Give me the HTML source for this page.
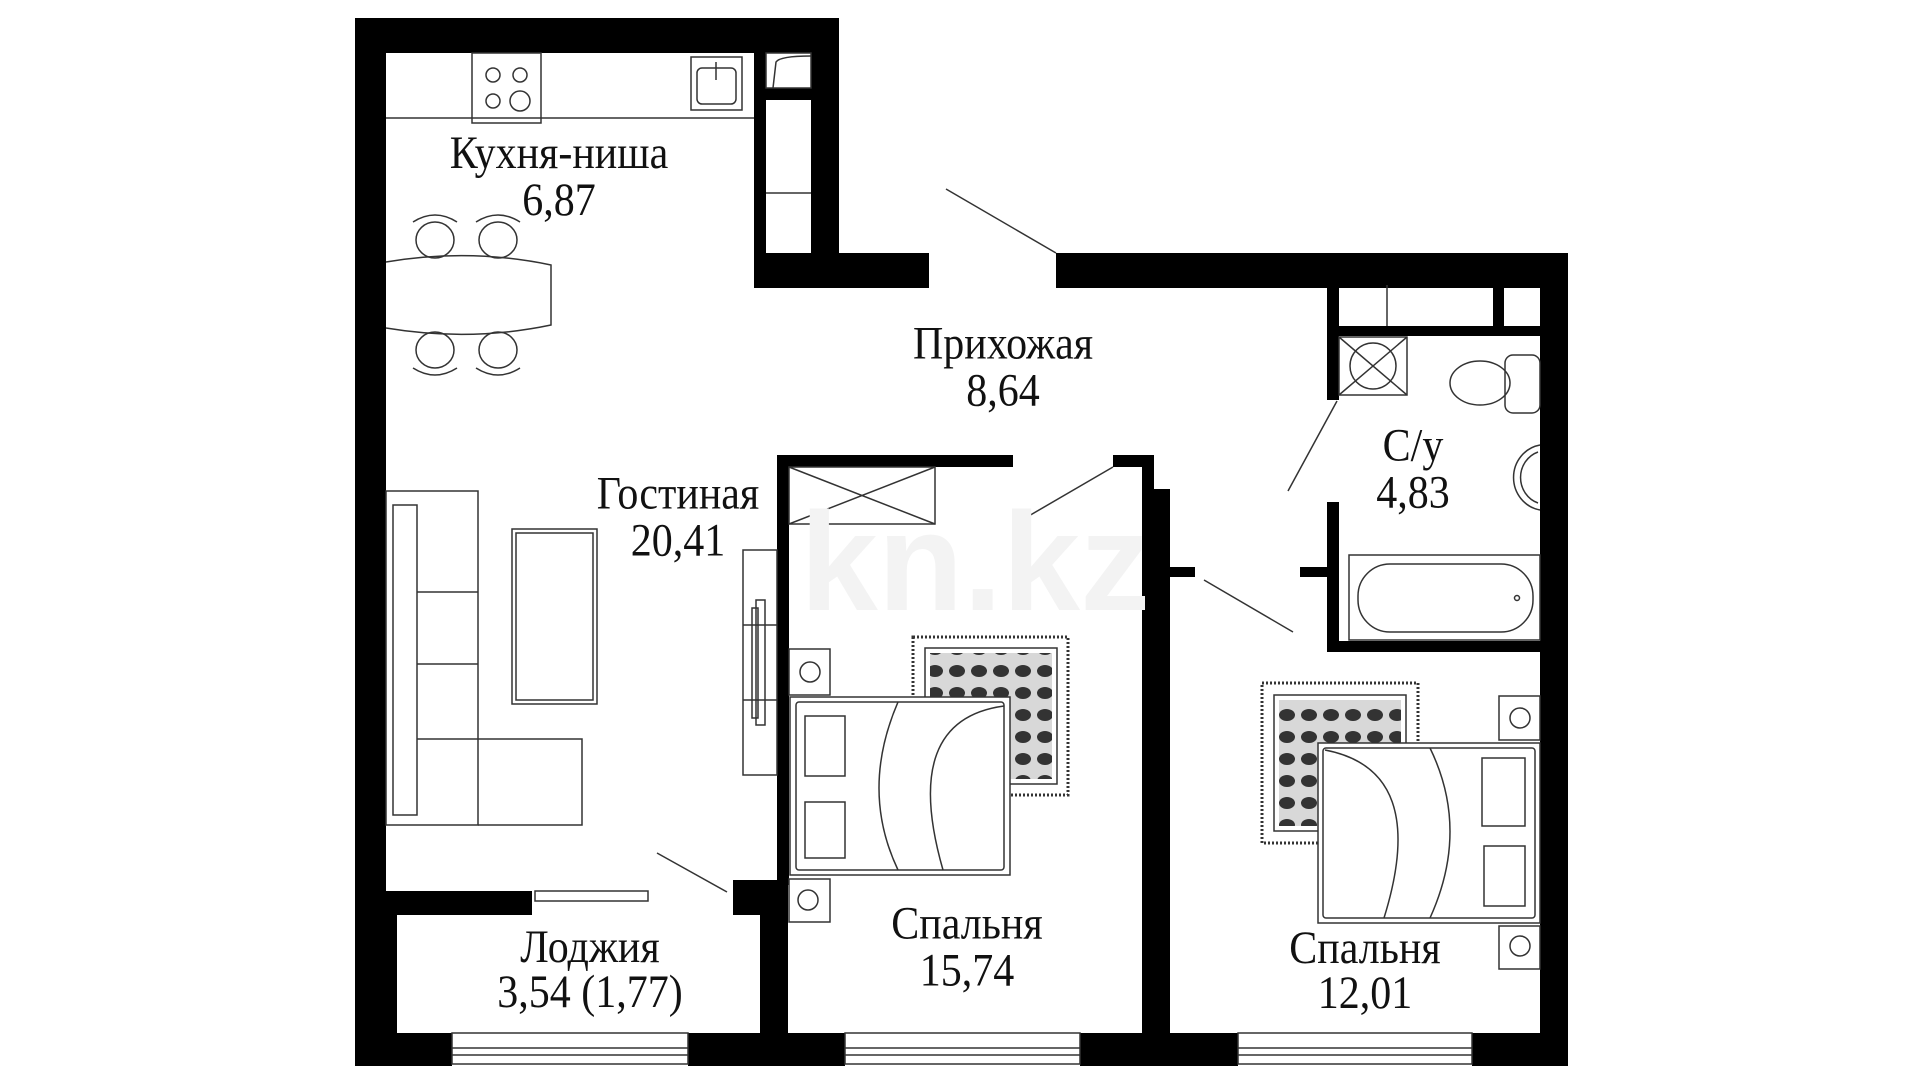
<!DOCTYPE html>
<html><head><meta charset="utf-8"><style>
html,body{margin:0;padding:0;background:#fff;}
svg{display:block;}
text{font-family:"Liberation Serif",serif;font-size:42px;fill:#111;text-anchor:middle;}
</style></head><body>
<svg width="1920" height="1080" viewBox="0 0 1920 1080" xmlns="http://www.w3.org/2000/svg">
<defs>
<pattern id="rug" width="22" height="22" patternUnits="userSpaceOnUse">
<rect width="22" height="22" fill="#d8d8d8"/>
<ellipse cx="11" cy="11" rx="8" ry="6" fill="#333"/>
</pattern>
</defs>
<g fill="#000">
<rect x="355" y="18" width="484" height="35"/>
<rect x="355" y="18" width="31" height="1048"/>
<rect x="811" y="18" width="28" height="270"/>
<rect x="754" y="53" width="12" height="235"/>
<rect x="766" y="88" width="45" height="12"/>
<rect x="754" y="253" width="175" height="35"/>
<rect x="1056" y="253" width="512" height="35"/>
<rect x="1540" y="253" width="28" height="813"/>
<rect x="355" y="1033" width="97" height="33"/>
<rect x="688" y="1033" width="157" height="33"/>
<rect x="1080" y="1033" width="158" height="33"/>
<rect x="1472" y="1033" width="96" height="33"/>
<rect x="386" y="891" width="146" height="24"/>
<rect x="386" y="891" width="11" height="142"/>
<rect x="733" y="880" width="27" height="35"/>
<rect x="760" y="880" width="28" height="153"/>
<rect x="777" y="455" width="236" height="12"/>
<rect x="777" y="455" width="12" height="430"/>
<rect x="1113" y="455" width="41" height="12"/>
<rect x="1142" y="455" width="12" height="578"/>
<rect x="1154" y="489" width="16" height="544"/>
<rect x="1170" y="567" width="25" height="10"/>
<rect x="1327" y="285" width="12" height="115"/>
<rect x="1327" y="502" width="12" height="150"/>
<rect x="1300" y="567" width="27" height="10"/>
<rect x="1327" y="641" width="213" height="11"/>
<rect x="1339" y="326" width="201" height="10"/>
<rect x="1493" y="285" width="11" height="41"/>
</g>
<g fill="none" stroke="#333" stroke-width="1.5">
<rect x="452" y="1033" width="236" height="31"/><line x1="452" y1="1048" x2="688" y2="1048"/><line x1="452" y1="1055" x2="688" y2="1055"/>
<rect x="845" y="1033" width="235" height="31"/><line x1="845" y1="1048" x2="1080" y2="1048"/><line x1="845" y1="1055" x2="1080" y2="1055"/>
<rect x="1238" y="1033" width="234" height="31"/><line x1="1238" y1="1048" x2="1472" y2="1048"/><line x1="1238" y1="1055" x2="1472" y2="1055"/>
<line x1="946" y1="189" x2="1056" y2="253"/>
<line x1="1113" y1="467" x2="1027" y2="517"/>
<line x1="1288" y1="491" x2="1337" y2="401"/>
<line x1="1204" y1="580" x2="1293" y2="632"/>
<line x1="657" y1="853" x2="727" y2="892"/>
<rect x="535" y="891" width="113" height="10"/>
<line x1="386" y1="118" x2="754" y2="118"/>
<rect x="472" y="53" width="69" height="70"/>
<circle cx="493" cy="75" r="7"/><circle cx="520" cy="75" r="7"/><circle cx="493" cy="101" r="7"/><circle cx="520" cy="101" r="10"/>
<rect x="691" y="57" width="51" height="53"/><rect x="697" y="68" width="39" height="36" rx="5"/>
<line x1="716" y1="62" x2="716" y2="80"/>
<rect x="766" y="53" width="45" height="35"/><path d="M773 88 L776 62 Q780 56 811 56"/>
<line x1="766" y1="193" x2="811" y2="193"/>
<path d="M386 262 Q470 248 551 265 L551 325 Q470 342 386 328"/>
<ellipse cx="435" cy="240" rx="19" ry="18"/><ellipse cx="498" cy="240" rx="19" ry="18"/>
<path d="M413 222 Q435 208 457 222"/><path d="M476 222 Q498 208 520 222"/>
<ellipse cx="435" cy="350" rx="19" ry="18"/><ellipse cx="498" cy="350" rx="19" ry="18"/>
<path d="M413 368 Q435 382 457 368"/><path d="M476 368 Q498 382 520 368"/>
<rect x="386" y="491" width="92" height="334"/>
<path d="M478 739 H582 V825 H478"/>
<rect x="393" y="505" width="24" height="310"/>
<line x1="417" y1="592" x2="478" y2="592"/><line x1="417" y1="664" x2="478" y2="664"/><line x1="417" y1="739" x2="478" y2="739"/>
<rect x="512" y="529" width="85" height="175"/><rect x="516" y="533" width="77" height="167"/>
<rect x="743" y="550" width="34" height="225"/>
<line x1="743" y1="625" x2="777" y2="625"/><line x1="743" y1="700" x2="777" y2="700"/>
<rect x="756" y="600" width="9" height="125"/><rect x="752" y="608" width="6" height="110"/>
<rect x="789" y="467" width="146" height="57"/>
<line x1="789" y1="467" x2="935" y2="524"/><line x1="789" y1="524" x2="935" y2="467"/>
<rect x="789" y="649" width="41" height="46"/><circle cx="810" cy="672" r="10"/>
<rect x="789" y="879" width="41" height="43"/><circle cx="808" cy="900" r="10"/>
<rect x="913" y="637" width="155" height="158" stroke-width="3" stroke-dasharray="2 2"/>
<rect x="925" y="648" width="132" height="136"/>
<rect x="930" y="653" width="122" height="126" fill="url(#rug)" stroke="none"/>
<rect x="790" y="697" width="220" height="178" fill="#fff"/>
<rect x="796" y="702" width="208" height="168" rx="3"/>
<path d="M898 702 Q860 790 898 870"/><path d="M1004 706 Q900 720 943 870"/>
<path d="M805 716 H845 V776 H805 Z"/><path d="M805 802 H845 V858 H805 Z"/>
<rect x="1499" y="696" width="41" height="44"/><circle cx="1520" cy="718" r="10"/>
<rect x="1499" y="926" width="41" height="43"/><circle cx="1520" cy="946" r="10"/>
<rect x="1262" y="683" width="156" height="160" stroke-width="3" stroke-dasharray="2 2"/>
<rect x="1274" y="695" width="132" height="136"/>
<rect x="1279" y="700" width="122" height="126" fill="url(#rug)" stroke="none"/>
<rect x="1318" y="743" width="222" height="180" fill="#fff"/>
<rect x="1323" y="748" width="212" height="170" rx="3"/>
<path d="M1430 748 Q1470 830 1430 918"/><path d="M1325 750 Q1430 770 1384 918"/>
<path d="M1482 758 H1525 V826 H1482 Z"/><path d="M1484 846 H1525 V906 H1484 Z"/>
<line x1="1387" y1="285" x2="1387" y2="326"/>
<rect x="1339" y="337" width="68" height="58"/><circle cx="1373" cy="366" r="23"/>
<line x1="1339" y1="337" x2="1407" y2="395"/><line x1="1339" y1="395" x2="1407" y2="337"/>
<ellipse cx="1480" cy="383" rx="30" ry="22"/><rect x="1505" y="355" width="35" height="58" rx="8"/>
<path d="M1540 445 A32 33 0 0 0 1540 510"/><path d="M1538 452 A26 27 0 0 0 1538 503"/>
<rect x="1349" y="555" width="191" height="85"/>
<rect x="1358" y="564" width="175" height="68" rx="32"/>
<circle cx="1517" cy="598" r="2.5"/>
</g>
<text x="975" y="610" style="font-family:'Liberation Sans',sans-serif;font-size:140px;font-weight:bold;fill:#f3f3f3">kn.kz</text>
<g transform="scale(1,1.12)">
<text x="559" y="150">Кухня-ниша</text>
<text x="559" y="192">6,87</text>
<text x="1003" y="320">Прихожая</text>
<text x="1003" y="362">8,64</text>
<text x="678" y="454">Гостиная</text>
<text x="678" y="496">20,41</text>
<text x="1413" y="411">С/у</text>
<text x="1413" y="453">4,83</text>
<text x="590" y="859">Лоджия</text>
<text x="590" y="899">3,54 (1,77)</text>
<text x="967" y="838">Спальня</text>
<text x="967" y="880">15,74</text>
<text x="1365" y="860">Спальня</text>
<text x="1365" y="900">12,01</text>
</g>
</svg>
</body></html>
